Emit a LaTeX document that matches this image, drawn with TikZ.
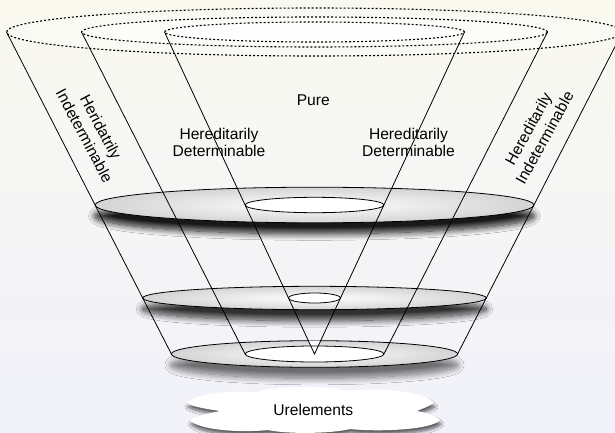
\documentclass[tikz,border=0pt]{standalone}
\usepackage{fontspec}
\setmainfont{Liberation Sans}
\usetikzlibrary{shadows.blur}

\definecolor{bgtop}{RGB}{249,249,240}
\definecolor{bgbot}{RGB}{241,241,250}
\definecolor{rim}{RGB}{212,212,212}

\begin{document}
\begin{tikzpicture}[x=1pt, y=-1pt,
  edge/.style={line width=0.8pt, black},
  rimdots/.style={line width=1.1pt, black, dash pattern=on 2pt off 2pt},
  % shadow shifts act on the page, so a negative yshift lowers the shadow
  disc/.style={draw=black, line width=0.8pt, inner color=white, outer color=rim,
    blur shadow={shadow xshift=0pt, shadow yshift=-11pt, shadow opacity=#1,
      shadow blur radius=6.5pt, shadow blur steps=12}},
  disc/.default=80,
  hole/.style={draw=black, line width=0.8pt, fill=white},
  lbl/.style={font=\fontsize{15.6}{17.5}\selectfont, align=center, inner sep=0pt},
  slanted/.style={font=\fontsize{15.6}{18.5}\selectfont, align=center, inner sep=0pt},
]
% canvas and background wash
\useasboundingbox (0,0) rectangle (615,433);
\shade[top color=bgtop, bottom color=bgbot] (0,0) rectangle (615,433);

% ---- open rims of the three cones ----
\coordinate (top) at (314.5,32);
\fill[white, opacity=0.3] (top) ellipse [x radius=308pt, y radius=24pt];
\fill[white, opacity=0.45] (top) ellipse [x radius=233pt, y radius=15pt];
\fill[white, opacity=0.95] (top) ellipse [x radius=150pt, y radius=10pt];
\draw[rimdots] (top) ellipse [x radius=308pt, y radius=24pt];
\draw[rimdots] (top) ellipse [x radius=233pt, y radius=15pt];
\draw[rimdots] (top) ellipse [x radius=150pt, y radius=10pt];

% ---- cross sections ----
\coordinate (c1) at (314.5,205);
\coordinate (c2) at (314.5,298);
\coordinate (c3) at (314.5,354);

\path[disc=90] (c1) ellipse [x radius=219.4pt, y radius=17.8pt];
\path[hole] (c1) ellipse [x radius=69.4pt, y radius=7.7pt];

\path[disc=80] (c2) ellipse [x radius=171.8pt, y radius=11.7pt];
\path[hole] (c2) ellipse [x radius=26pt, y radius=5pt];

\path[disc=55] (c3) ellipse [x radius=143.1pt, y radius=13.3pt];
\begin{scope}
  \clip (c3) ellipse [x radius=143.1pt, y radius=13.3pt];
  \fill[white] (307.1,338) -- (321.9,338) -- (c3) -- cycle;
\end{scope}
\path[hole] (c3) ellipse [x radius=69.4pt, y radius=8pt];

% ---- cone generators ----
% outer cone
\coordinate (oTL) at (6.5,32);    \coordinate (oTR) at (622.5,32);
\coordinate (o1L) at (95.1,205);  \coordinate (o1R) at (533.9,205);
\coordinate (o2L) at (142.7,298); \coordinate (o2R) at (486.3,298);
\coordinate (o3L) at (171.4,354); \coordinate (o3R) at (457.6,354);
% middle cone
\coordinate (mTL) at (81.5,32);   \coordinate (mTR) at (547.5,32);
\coordinate (m3L) at (245.1,354); \coordinate (m3R) at (383.9,354);
% inner cone
\coordinate (iTL) at (164.5,32);  \coordinate (iTR) at (464.5,32);
\coordinate (i1L) at (245.1,205); \coordinate (i1R) at (383.9,205);
\coordinate (i2L) at (288.5,298); \coordinate (i2R) at (340.5,298);
\coordinate (apex) at (314.5,354);

\draw[edge] (oTL) -- (o1L) -- (o2L) -- (o3L);
\draw[edge] (oTR) -- (o1R) -- (o2R) -- (o3R);
\draw[edge] (mTL) -- (m3L);
\draw[edge] (mTR) -- (m3R);
\draw[edge] (iTL) -- (i1L) -- (i2L) -- (apex) -- (i2R) -- (i1R) -- (iTR);

% ---- labels ----
\node[lbl] (pure) at (313.3,100.3) {Pure};
\node[lbl] (hdL) at (219,142.3) {Hereditarily\\Determinable};
\node[lbl] (hdR) at (408.5,142.3) {Hereditarily\\Determinable};
\node[slanted, rotate=-62] (hiL) at (92.8,131.5) {Heridatrily\\Indeterminable};
\node[slanted, rotate=61] (hiR) at (536.3,133.3) {Hereditarily\\Indeterminable};

% ---- urelements cloud ----
\fill[white, blur shadow={shadow xshift=1pt, shadow yshift=-4pt, shadow opacity=60,
      shadow blur radius=3pt, shadow blur steps=8}]
  (187,403)
  .. controls (196,394) and (225,390) .. (256,392)
  .. controls (275,386) and (330,385) .. (346,391)
  .. controls (378,387) and (425,391) .. (434,403)
  .. controls (428,407) and (421,409) .. (417,411)
  .. controls (428,413) and (437,416) .. (440,420)
  .. controls (432,430) and (378,432) .. (350,429)
  .. controls (330,434) and (285,434) .. (268,430)
  .. controls (240,433) and (198,430) .. (190,420)
  .. controls (196,416) and (210,413) .. (220,411)
  .. controls (207,409) and (193,407) .. (187,403) -- cycle;
\node[lbl] (urel) at (313.3,409.6) {Urelements};
\end{tikzpicture}
\end{document}
